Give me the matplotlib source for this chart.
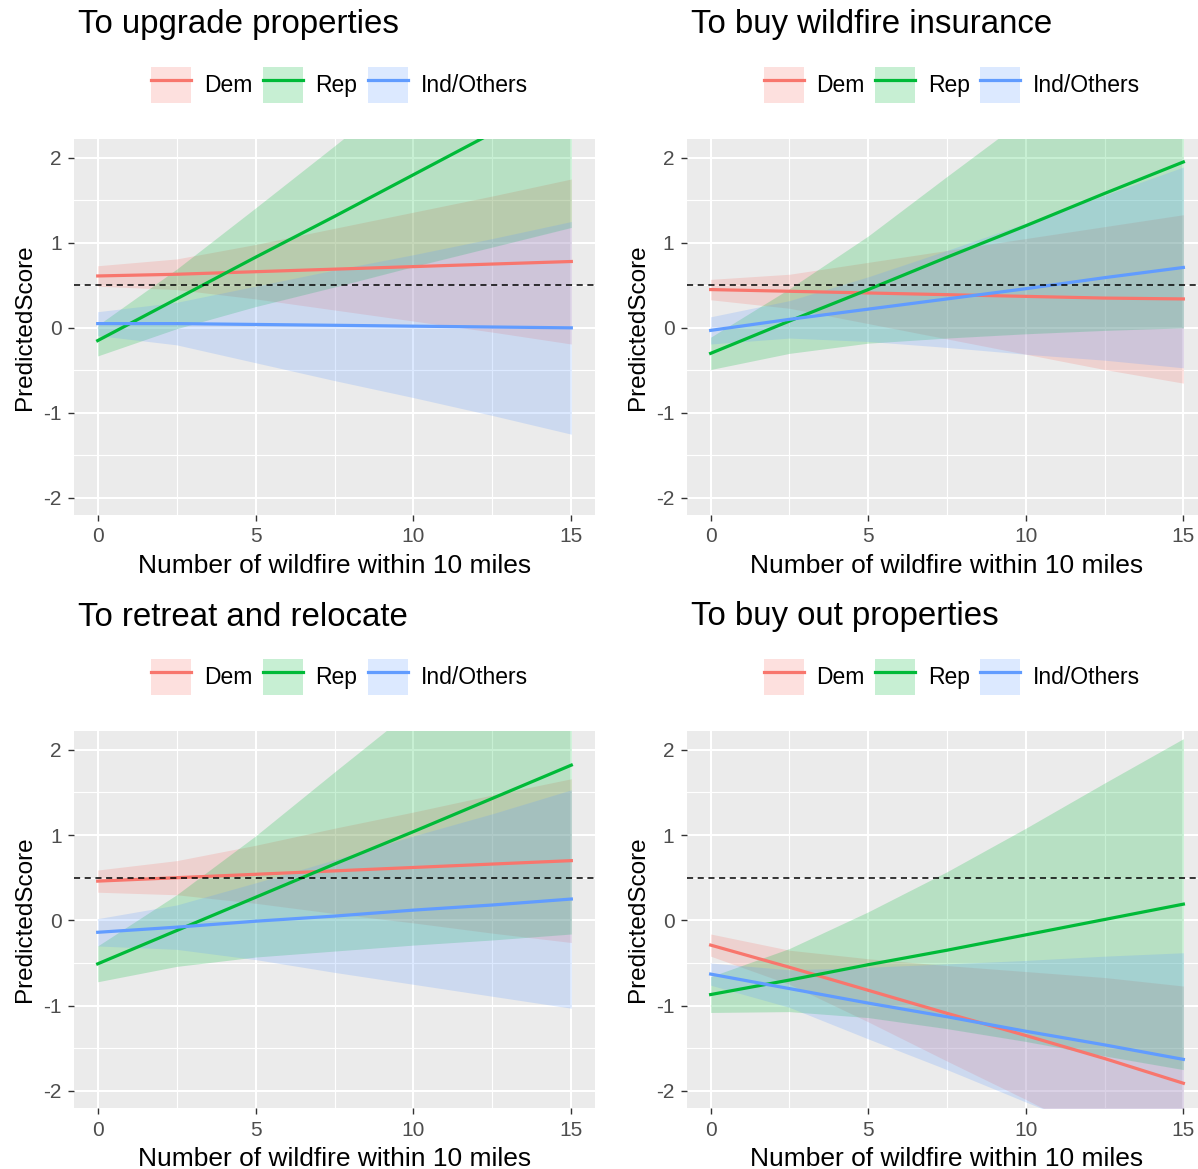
import numpy as np
import matplotlib
matplotlib.use('Agg')
import matplotlib.pyplot as plt
from matplotlib.patches import Patch
from matplotlib.lines import Line2D

plt.rcParams['font.family'] = ['Liberation Sans', 'DejaVu Sans']
plt.rcParams['axes.unicode_minus'] = False

# wildfire count grid the predictions were read at
x = [0, 2.5, 5, 7.5, 10, 12.5, 15]
groups = ['Dem', 'Rep', 'Ind/Others']
colors = ['#F8766D', '#00BA38', '#619CFF']
titles = ['To upgrade properties', 'To buy wildfire insurance',
          'To retreat and relocate', 'To buy out properties']

# To upgrade properties
upg_dem = [0.61, 0.63, 0.66, 0.69, 0.72, 0.75, 0.78]
upg_dem_lo = [0.49, 0.45, 0.34, 0.21, 0.08, -0.05, -0.19]
upg_dem_hi = [0.73, 0.81, 0.98, 1.17, 1.36, 1.55, 1.75]
upg_rep = [-0.15, 0.34, 0.83, 1.31, 1.80, 2.29, 2.78]
upg_rep_lo = [-0.33, -0.01, 0.25, 0.48, 0.72, 0.95, 1.18]
upg_rep_hi = [0.03, 0.69, 1.41, 2.14, 2.88, 3.63, 4.38]
upg_ind = [0.05, 0.05, 0.04, 0.03, 0.02, 0.01, 0.0]
upg_ind_lo = [-0.09, -0.20, -0.41, -0.62, -0.82, -1.03, -1.25]
upg_ind_hi = [0.19, 0.30, 0.49, 0.68, 0.86, 1.05, 1.25]

# To buy wildfire insurance
ins_dem = [0.45, 0.43, 0.41, 0.39, 0.37, 0.35, 0.34]
ins_dem_lo = [0.33, 0.23, 0.05, -0.13, -0.31, -0.49, -0.65]
ins_dem_hi = [0.57, 0.63, 0.77, 0.91, 1.05, 1.19, 1.33]
ins_rep = [-0.30, 0.08, 0.45, 0.83, 1.20, 1.58, 1.95]
ins_rep_lo = [-0.49, -0.30, -0.18, -0.12, -0.07, -0.03, 0.0]
ins_rep_hi = [-0.11, 0.46, 1.08, 1.78, 2.47, 3.19, 3.90]
ins_ind = [-0.03, 0.10, 0.22, 0.34, 0.46, 0.59, 0.71]
ins_ind_lo = [-0.19, -0.12, -0.16, -0.23, -0.31, -0.38, -0.47]
ins_ind_hi = [0.13, 0.32, 0.60, 0.91, 1.23, 1.56, 1.89]

# To retreat and relocate
ret_dem = [0.46, 0.50, 0.54, 0.58, 0.62, 0.66, 0.70]
ret_dem_lo = [0.33, 0.30, 0.20, 0.08, -0.03, -0.15, -0.26]
ret_dem_hi = [0.59, 0.70, 0.88, 1.08, 1.27, 1.47, 1.66]
ret_rep = [-0.51, -0.12, 0.27, 0.66, 1.04, 1.43, 1.82]
ret_rep_lo = [-0.72, -0.54, -0.43, -0.36, -0.29, -0.23, -0.16]
ret_rep_hi = [-0.30, 0.30, 0.99, 1.74, 2.48, 3.22, 3.95]
ret_ind = [-0.14, -0.08, -0.01, 0.05, 0.12, 0.18, 0.25]
ret_ind_lo = [-0.30, -0.34, -0.46, -0.61, -0.75, -0.89, -1.03]
ret_ind_hi = [0.02, 0.18, 0.44, 0.71, 0.99, 1.25, 1.53]

# To buy out properties
buy_dem = [-0.29, -0.55, -0.82, -1.09, -1.35, -1.62, -1.91]
buy_dem_lo = [-0.42, -0.75, -1.19, -1.65, -2.10, -2.57, -3.05]
buy_dem_hi = [-0.16, -0.35, -0.45, -0.53, -0.60, -0.67, -0.77]
buy_rep = [-0.87, -0.70, -0.52, -0.35, -0.17, 0.01, 0.19]
buy_rep_lo = [-1.08, -1.07, -1.14, -1.27, -1.42, -1.59, -1.75]
buy_rep_hi = [-0.66, -0.33, 0.10, 0.57, 1.08, 1.61, 2.13]
buy_ind = [-0.63, -0.80, -0.97, -1.13, -1.30, -1.46, -1.63]
buy_ind_lo = [-0.76, -1.02, -1.39, -1.75, -2.13, -2.50, -2.88]
buy_ind_hi = [-0.50, -0.58, -0.55, -0.51, -0.47, -0.42, -0.38]

panels = [
    [(upg_dem, upg_dem_lo, upg_dem_hi), (upg_rep, upg_rep_lo, upg_rep_hi), (upg_ind, upg_ind_lo, upg_ind_hi)],
    [(ins_dem, ins_dem_lo, ins_dem_hi), (ins_rep, ins_rep_lo, ins_rep_hi), (ins_ind, ins_ind_lo, ins_ind_hi)],
    [(ret_dem, ret_dem_lo, ret_dem_hi), (ret_rep, ret_rep_lo, ret_rep_hi), (ret_ind, ret_ind_lo, ret_ind_hi)],
    [(buy_dem, buy_dem_lo, buy_dem_hi), (buy_rep, buy_rep_lo, buy_rep_hi), (buy_ind, buy_ind_lo, buy_ind_hi)],
]

W, H = 1198, 1169
fig = plt.figure(figsize=(W / 100, H / 100), dpi=100)

# panel boxes in pixels: left, top, right, bottom
boxes = [(74, 139, 595, 515), (687, 139, 1207, 515),
         (74, 731, 595, 1108), (687, 731, 1207, 1108)]

for k in range(4):
    l, t, r, b = boxes[k]
    ax = fig.add_axes([l / W, 1 - b / H, (r - l) / W, (b - t) / H])
    ax.set_facecolor('#EBEBEB')
    for s in ax.spines.values():
        s.set_visible(False)
    ax.set_xlim(-0.75, 15.75)
    ax.set_ylim(-2.2, 2.22)
    ax.set_xticks([0, 5, 10, 15])
    ax.set_yticks([-2, -1, 0, 1, 2])
    ax.set_xticks([2.5, 7.5, 12.5], minor=True)
    ax.set_yticks([-1.5, -0.5, 0.5, 1.5], minor=True)
    ax.grid(True, which='major', color='white', lw=1.5)
    ax.grid(True, which='minor', color='white', lw=0.8)
    ax.set_axisbelow(True)
    ax.tick_params(which='major', colors='#333333', labelcolor='#4D4D4D',
                   labelsize=15, length=4, width=1, pad=5)
    ax.tick_params(which='minor', length=0)

    for (mid, lo, hi), c in zip(panels[k], colors):
        ax.fill_between(x, lo, hi, color=c, alpha=0.22, lw=0)
    for (mid, lo, hi), c in zip(panels[k], colors):
        ax.plot(x, mid, color=c, lw=2.3)
    ax.axhline(0.5, color='black', lw=1.1, ls=(0, (4, 3)))

    cx = (l + r) / 2
    fig.text((l + 4) / W, 1 - (t - 114) / H, titles[k], fontsize=23.8,
             ha='left', va='center')
    fig.text(cx / W, 1 - (b + 51) / H, 'Number of wildfire within 10 miles',
             fontsize=19, ha='center', va='center')
    fig.text((l - 49) / W, 1 - (t + b) / 2 / H, 'PredictedScore',
             fontsize=17.5, rotation=90, ha='center', va='center')

    handles = [(Patch(facecolor=c, alpha=0.22, lw=0), Line2D([], [], color=c, lw=2.3))
               for c in colors]
    fig.legend(handles, groups, loc='center', ncol=3, frameon=False,
               bbox_to_anchor=((cx + 5) / W, 1 - (t - 54) / H),
               fontsize=16.5, handlelength=1.75, handleheight=2.05,
               handletextpad=0.55, columnspacing=0.45)

fig.savefig('out.png', dpi=100)
